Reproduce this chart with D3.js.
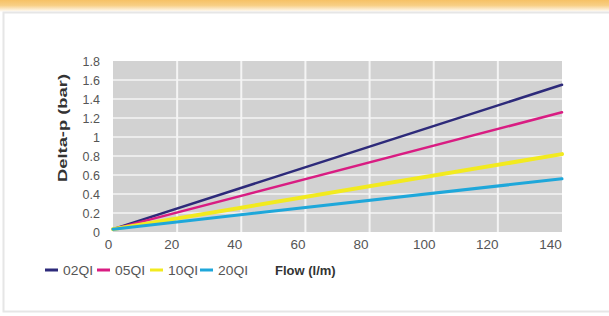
<!DOCTYPE html>
<html>
<head>
<meta charset="utf-8">
<script src="https://cdn.jsdelivr.net/npm/d3@7"></script>
<style>
  html, body { margin: 0; padding: 0; background: #fff; }
  svg { display: block; font-family: "Liberation Sans", Arial, sans-serif; }
</style>
</head>
<body>
<div id="chart"></div>
<script>
// flow in l/m, delta-p in bar
const flow = [0, 140];
const seriesNames = ['02QI', '05QI', '10QI', '20QI'];
const v02 = [0.03, 1.55];
const v05 = [0.03, 1.26];
const v10 = [0.03, 0.82];
const v20 = [0.03, 0.56];
const xTicks = [0, 20, 40, 60, 80, 100, 120, 140];
const yTicks = [0, 0.2, 0.4, 0.6, 0.8, 1, 1.2, 1.4, 1.6, 1.8];

const colors = ['#2d2a7a', '#d91c82', '#f2ea1f', '#1ea7da'];
const widths = [2.5, 2.5, 4, 3];
const values = [v02, v05, v10, v20];

const width = 609, height = 316;
const margin = { top: 61, right: 47, bottom: 84, left: 113 };

const svg = d3.select('#chart').append('svg')
    .attr('width', width)
    .attr('height', height);

// card background
const defs = svg.append('defs');
const grad = defs.append('linearGradient')
    .attr('id', 'topband').attr('x1', 0).attr('y1', 0).attr('x2', 0).attr('y2', 1);
grad.append('stop').attr('offset', '0%').attr('stop-color', '#f6c165');
grad.append('stop').attr('offset', '45%').attr('stop-color', '#f8cf85');
grad.append('stop').attr('offset', '100%').attr('stop-color', '#ffffff');
svg.append('rect').attr('x', 0).attr('y', 0).attr('width', width).attr('height', 12)
    .attr('fill', 'url(#topband)');
svg.append('rect').attr('x', 3.5).attr('y', 12.5).attr('width', width).attr('height', 299)
    .attr('fill', '#fff').attr('stroke', '#e6e6e6').attr('stroke-width', 2);

const x = d3.scaleLinear()
    .domain([0, 140])
    .range([margin.left, width - margin.right]);

const y = d3.scaleLinear()
    .domain([0, 1.8])
    .range([height - margin.bottom, margin.top]);

// plot background
svg.append('rect')
    .attr('x', x(0)).attr('y', y(1.8))
    .attr('width', x(140) - x(0)).attr('height', y(0) - y(1.8))
    .attr('fill', '#d2d2d2');

// grid
svg.append('g')
    .selectAll('line.h')
    .data(yTicks.slice(1, -1))
    .join('line')
    .attr('x1', x(0)).attr('x2', x(140))
    .attr('y1', d => y(d)).attr('y2', d => y(d))
    .attr('stroke', '#f4f4f4').attr('stroke-width', 1.5);

svg.append('g')
    .selectAll('line.v')
    .data(xTicks.slice(1, -1))
    .join('line')
    .attr('x1', d => x(d)).attr('x2', d => x(d))
    .attr('y1', y(0)).attr('y2', y(1.8))
    .attr('stroke', '#f4f4f4').attr('stroke-width', 2);

// axes (labels only)
const xAxis = svg.append('g')
    .attr('transform', `translate(0,${y(0)})`)
    .call(d3.axisBottom(x).tickValues(xTicks).tickSize(0).tickPadding(7));
xAxis.select('.domain').remove();
xAxis.selectAll('text')
    .attr('font-size', 13.5).attr('fill', '#555')
    .attr('dx', d => -5 - d / 20);

const yAxis = svg.append('g')
    .attr('transform', `translate(${x(0)},0)`)
    .call(d3.axisLeft(y).tickValues(yTicks).tickSize(0).tickPadding(13)
        .tickFormat(d3.format('~g')));
yAxis.select('.domain').remove();
yAxis.selectAll('text').attr('font-size', 12.5).attr('fill', '#555');

// lines
const line = d3.line()
    .x((d, i) => x(flow[i]))
    .y(d => y(d));

svg.append('g')
    .selectAll('path')
    .data(values)
    .join('path')
    .attr('d', d => line(d))
    .attr('fill', 'none')
    .attr('stroke', (d, i) => colors[i])
    .attr('stroke-width', (d, i) => widths[i])
    .attr('stroke-linecap', 'round');

// y title
svg.append('text')
    .attr('transform', 'translate(67,128) rotate(-90)')
    .attr('text-anchor', 'middle')
    .attr('font-size', 13.5).attr('font-weight', 'bold').attr('fill', '#333')
    .attr('textLength', 108).attr('lengthAdjust', 'spacingAndGlyphs')
    .text('Delta-p (bar)');

// legend
const legendX = [45, 97, 150, 200];
const legend = svg.append('g')
    .attr('transform', 'translate(0,270)');
const item = legend.selectAll('g')
    .data(seriesNames)
    .join('g')
    .attr('transform', (d, i) => `translate(${legendX[i]},0)`);
item.append('line')
    .attr('x1', 0).attr('x2', 13)
    .attr('stroke', (d, i) => colors[i]).attr('stroke-width', 3);
item.append('text')
    .attr('x', 18).attr('dy', '0.35em')
    .attr('font-size', 13.5).attr('fill', '#555')
    .attr('textLength', 30).attr('lengthAdjust', 'spacingAndGlyphs')
    .text(d => d);

legend.append('text')
    .attr('x', 275).attr('dy', '0.35em')
    .attr('font-size', 13).attr('font-weight', 'bold').attr('fill', '#333')
    .text('Flow (l/m)');
</script>
</body>
</html>
